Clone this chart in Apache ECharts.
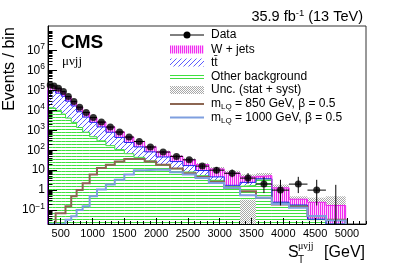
<!DOCTYPE html>
<html><head><meta charset="utf-8">
<script src="https://cdn.jsdelivr.net/npm/echarts@6/dist/echarts.min.js"></script>
<style>html,body{margin:0;padding:0;background:#fff}#c{width:407px;height:267px}</style>
</head><body><div id="c"></div>
<script>
// ---- data ----
const binEdges = [300, 370, 420, 510, 575, 665, 750, 845, 955, 1070, 1210, 1350, 1500, 1650, 1820, 2000, 2220, 2420, 2620, 2830, 3070, 3320, 3570, 3820, 4090, 4380, 4670, 4980];
const dataCounts = [188000, 168000, 129000, 87000, 49000, 27500, 14500, 7800, 4370, 2570, 1450, 813, 457, 275, 145, 81, 49, 33, 16, 10, 7, 4, 2, 1, 2, 1, 0];
const dataErrLow = [187566, 167590, 128641, 86705, 48779, 27334, 14380, 7712, 4304, 2519, 1412, 784.5, 435.6, 258.4, 133, 72, 42, 27.3, 12.1, 6.89, 4.42, 2.09, 0.71, 0.17, 0.71, 0.17, 0];
const dataErrHigh = [188434, 168410, 129359, 87295, 49221, 27666, 14620, 7888, 4436, 2621, 1488, 841.5, 478.4, 291.6, 157, 90, 56, 38.8, 20.1, 14.27, 10.77, 7.16, 4.64, 3.30, 4.64, 3.30, 1.84];
const otherBkg = [13500, 13000, 10000, 6500, 4100, 2500, 1380, 800, 475, 295, 170, 107, 67, 44, 29, 18, 11.7, 8.1, 5.3, 3.1, 1.55, 1.7, 3.6, 0.23, 0.17, 0.033, 0.005];
const ttbar = [86500, 82000, 63000, 44500, 24900, 14100, 7120, 3800, 2025, 1185, 630, 333, 178, 103, 54, 28, 15.3, 8.9, 4.3, 1.5, 0.19, 0.75, 0.1, 0.02, 0.01, 0.002, 0.001];
const wjets = [74000, 65000, 51000, 33000, 19000, 11400, 5800, 3300, 1800, 1120, 680, 390, 215, 123, 65, 37, 23, 16, 9.4, 6.9, 5.46, 2.15, 1.6, 1.05, 0.17, 0.21, 0.164];
const uncLow = [156600, 144000, 111600, 75600, 43200, 25200, 12870, 7110, 3870, 2340, 1302, 730, 405, 238, 126, 70.5, 42.5, 26.4, 15.2, 8.6, 5.0, 3.0, 3.4, 0.72, 0.21, 0.07, 0.02];
const uncHigh = [191400, 176000, 136400, 92400, 52800, 30800, 15730, 8690, 4730, 2860, 1658, 930, 515, 302, 170, 95.5, 57.5, 39.6, 22.8, 14.4, 9.4, 6.2, 7.2, 1.9, 0.49, 0.42, 0.49];
const uncArtifactBins = [21];
const uncArtifactTop = [0.33];
const sig850 = [0, 0, 0.07, 0.07, 0.155, 0.49, 1.0, 2.2, 6.0, 12.9, 18.8, 27.5, 36, 36, 27.5, 18.8, 12, 7, 4.6, 2.6, 1.3, 0.87, 0.41, 0.19, 0.145, 0.049, 0.033];
const sig1000 = [0, 0, 0, 0, 0.033, 0.049, 0.1, 0.155, 0.49, 1.06, 1.9, 3.35, 6.0, 9.8, 10.6, 10.6, 7.8, 6.0, 4.0, 2.3, 1.3, 0.55, 0.41, 0.2, 0.13, 0.05, 0.03];
const xTickLabels = [500, 1000, 1500, 2000, 2500, 3000, 3500, 4000, 4500, 5000];
const yTickExponents = [-1, 0, 1, 2, 3, 4, 5, 6, 7];
const xMin = 300, xMax = 5300, yMin = 0.02, yMax = 1.7e8;

// ---- helpers ----
const LY0 = Math.log10(yMin), LY1 = Math.log10(yMax);
function L(v) { if (!(v > 0)) return LY0; return Math.min(Math.max(Math.log10(v), LY0), LY1); }
function makePattern(w, h, bg, draw) {
  const c = document.createElement('canvas'); c.width = w; c.height = h;
  const g = c.getContext('2d');
  if (bg) { g.fillStyle = bg; g.fillRect(0, 0, w, h); }
  draw(g, w, h);
  return { image: c, repeat: 'repeat' };
}
const patGreen = makePattern(4, 3, '#ffffff', g => { g.fillStyle = '#3fe03f'; g.fillRect(0, 0, 4, 1); });
const patMag = makePattern(2, 2, '#fbd2fb', g => { g.fillStyle = '#f22cf2'; g.fillRect(0, 0, 1, 2); });
const patBlue = makePattern(5, 5, '#ffffff', (g, w, h) => {
  g.strokeStyle = '#5a5aff'; g.lineWidth = 1;
  [-w, 0, w].forEach(ox => { g.beginPath(); g.moveTo(ox, h); g.lineTo(ox + w, 0); g.stroke(); });
});
const patDotsOpaque = makePattern(2, 2, '#ffffff', g => { g.fillStyle = '#a8a8a8'; g.fillRect(0, 0, 1, 1); g.fillRect(1, 1, 1, 1); });

const nB = dataCounts.length;
const cumG = [], cumB = [], cumT = [];
for (let i = 0; i < nB; i++) { cumG.push(otherBkg[i]); cumB.push(otherBkg[i] + ttbar[i]); cumT.push(otherBkg[i] + ttbar[i] + wjets[i]); }

function rectSeries(name, rows, fill, z) {
  return {
    type: 'custom', name, z, silent: true, animation: false, clip: true,
    data: rows,
    encode: { x: [0, 1], y: [2, 3] },
    renderItem: (p, api) => {
      const a = api.coord([api.value(0), api.value(2)]);
      const b = api.coord([api.value(1), api.value(3)]);
      return { type: 'rect', shape: { x: a[0], y: b[1], width: b[0] - a[0], height: a[1] - b[1] }, style: { fill } };
    }
  };
}
function stepPoints(vals) {
  const pts = [[binEdges[0], LY0]];
  for (let i = 0; i < vals.length; i++) { pts.push([binEdges[i], L(vals[i])]); pts.push([binEdges[i + 1], L(vals[i])]); }
  pts.push([binEdges[vals.length], LY0]);
  return pts;
}
function stepSeries(vals, color, width, z) {
  return { type: 'line', data: stepPoints(vals), showSymbol: false, symbol: 'none', clip: true, silent: true, animation: false, z,
    lineStyle: { color, width, cap: 'butt', join: 'miter' } };
}

const rowsOther = [], rowsTT = [], rowsW = [], rowsUnc = [], rowsArt = [];
for (let i = 0; i < nB; i++) {
  rowsOther.push([binEdges[i], binEdges[i + 1], LY0, L(cumG[i])]);
  rowsTT.push([binEdges[i], binEdges[i + 1], L(cumG[i]), L(cumB[i])]);
  rowsW.push([binEdges[i], binEdges[i + 1], L(cumB[i]), L(cumT[i])]);
  rowsUnc.push([binEdges[i], binEdges[i + 1], L(uncLow[i]), L(uncHigh[i])]);
}
uncArtifactBins.forEach((b, k) => rowsArt.push([binEdges[b], binEdges[b + 1], LY0, L(uncArtifactTop[k])]));

const errRows = [], markRows = [];
for (let i = 0; i < nB; i++) {
  errRows.push([binEdges[i], binEdges[i + 1], L(dataCounts[i]), L(dataErrLow[i]), L(dataErrHigh[i]), dataCounts[i] > 0 ? 1 : 0]);
  if (dataCounts[i] > 0) markRows.push([(binEdges[i] + binEdges[i + 1]) / 2, L(dataCounts[i])]);
}

const xMinor = []; for (let v = xMin; v <= xMax; v += 100) if (xTickLabels.indexOf(v) < 0) xMinor.push(v);
const yMinor = []; for (let e = -2; e <= 8; e++) for (let k = 2; k <= 9; k++) { const lv = Math.log10(k) + e; if (lv > LY0 && lv < LY1) yMinor.push(lv); }

const FONT = 'Liberation Sans, Arial, Helvetica, sans-serif';
const chart = echarts.init(document.getElementById('c'), null, { renderer: 'canvas', width: 407, height: 267 });

const legendX0 = 170, legendX1 = 204, legendTX = 211;
const legendRows = [35, 49.5, 62.5, 77, 90, 104, 117.5];
const graphics = [];
graphics.push({ type: 'line', shape: { x1: legendX0, y1: legendRows[0], x2: legendX1, y2: legendRows[0] }, style: { stroke: '#000', lineWidth: 1 } });
graphics.push({ type: 'circle', shape: { cx: (legendX0 + legendX1) / 2, cy: legendRows[0], r: 3.5 }, style: { fill: '#000' } });
[[patMag, 1], [patBlue, 2], [patGreen, 3], [patDotsOpaque, 4]].forEach(([pat, r]) => {
  graphics.push({ type: 'rect', shape: { x: legendX0, y: legendRows[r] - 4, width: legendX1 - legendX0, height: 8 }, style: { fill: pat } });
});
graphics.push({ type: 'line', shape: { x1: legendX0, y1: legendRows[5], x2: legendX1, y2: legendRows[5] }, style: { stroke: '#8c6652', lineWidth: 2 } });
graphics.push({ type: 'line', shape: { x1: legendX0, y1: legendRows[6], x2: legendX1, y2: legendRows[6] }, style: { stroke: '#7f9fdf', lineWidth: 2 } });
const legendTexts = ['Data', 'W + jets', 'tt\u0304', 'Other background', 'Unc. (stat + syst)',
  '{n|m}{sub|LQ}{n| = 850 GeV, β = 0.5}', '{n|m}{sub|LQ}{n| = 1000 GeV, β = 0.5}'];
legendTexts.forEach((t, i) => {
  graphics.push({ type: 'text', x: legendTX, y: legendRows[i], style: { text: t, fontSize: 12, fontFamily: FONT, fill: '#000', verticalAlign: 'middle', align: 'left',
    rich: { n: { fontSize: 12, fontFamily: FONT }, sub: { fontSize: 8, fontFamily: FONT, padding: [6, 0, 0, 0] } } } });
});
graphics.push({ type: 'text', x: 363, y: 17, style: { text: '{a|35.9 fb}{s|-1}{a| (13 TeV)}', align: 'right', verticalAlign: 'middle',
  rich: { a: { fontSize: 14.5, fontFamily: FONT, fill: '#000' }, s: { fontSize: 9.5, fontFamily: FONT, fill: '#000', padding: [0, 0, 7, 0] } } } });
graphics.push({ type: 'text', x: 61, y: 43, style: { text: 'CMS', fontSize: 19, fontWeight: 'bold', fontFamily: FONT, fill: '#000', verticalAlign: 'middle' } });
graphics.push({ type: 'text', x: 62, y: 62, style: { text: 'μνjj', fontSize: 13, fontFamily: 'Liberation Serif, serif', fill: '#000', verticalAlign: 'middle' } });
graphics.push({ type: 'text', x: 9.5, y: 69, rotation: Math.PI / 2, style: { text: 'Events / bin', fontSize: 16, fontFamily: FONT, fill: '#000', align: 'center', verticalAlign: 'middle' } });
graphics.push({ type: 'text', x: 288, y: 253, style: { text: 'S', fontSize: 16, fontFamily: FONT, fill: '#000', verticalAlign: 'middle' } });
graphics.push({ type: 'text', x: 298, y: 260, style: { text: 'T', fontSize: 10, fontFamily: FONT, fill: '#000', verticalAlign: 'middle' } });
graphics.push({ type: 'text', x: 298, y: 246, style: { text: 'μνjj', fontSize: 10, fontFamily: 'Liberation Serif, serif', fill: '#000', verticalAlign: 'middle' } });
graphics.push({ type: 'text', x: 365, y: 253, style: { text: '[GeV]', fontSize: 16, fontFamily: FONT, fill: '#000', align: 'right', verticalAlign: 'middle' } });

const option = {
  animation: false,
  backgroundColor: '#fff',
  grid: { left: 48, top: 26, width: 318, height: 198, show: true, borderColor: '#333', borderWidth: 1, backgroundColor: 'transparent' },
  xAxis: [
    { type: 'value', min: xMin, max: xMax, position: 'bottom', z: 10, splitLine: { show: false },
      axisLine: { show: true, onZero: false, lineStyle: { color: '#000', width: 1 } },
      axisTick: { show: true, inside: true, length: 6, customValues: xTickLabels, lineStyle: { color: '#000' } },
      axisLabel: { show: true, customValues: xTickLabels, fontSize: 11, fontFamily: FONT, color: '#000', margin: 4, formatter: v => String(Math.round(v)) } },
    { type: 'value', min: xMin, max: xMax, position: 'bottom', z: 10, splitLine: { show: false },
      axisLine: { show: false, onZero: false },
      axisTick: { show: true, inside: true, length: 3, customValues: xMinor, lineStyle: { color: '#000' } },
      axisLabel: { show: false } }
  ],
  yAxis: [
    { type: 'value', min: LY0, max: LY1, z: 10, splitLine: { show: false },
      axisLine: { show: true, onZero: false, lineStyle: { color: '#000', width: 1 } },
      axisTick: { show: true, inside: true, length: 9, customValues: yTickExponents, lineStyle: { color: '#000' } },
      axisLabel: { show: true, customValues: yTickExponents, margin: 3,
        formatter: v => { const e = Math.round(v); if (e === 0) return '{n|1}'; if (e === 1) return '{n|10}'; return '{n|10}{s|' + (e < 0 ? '\u2212' + (-e) : e) + '}'; },
        rich: { n: { fontSize: 12, fontFamily: FONT, color: '#000' }, s: { fontSize: 8.5, fontFamily: FONT, color: '#000', padding: [0, 0, 7, 0] } } } },
    { type: 'value', min: LY0, max: LY1, z: 10, splitLine: { show: false }, position: 'left',
      axisLine: { show: false, onZero: false },
      axisTick: { show: true, inside: true, length: 4.5, customValues: yMinor, lineStyle: { color: '#000' } },
      axisLabel: { show: false } }
  ],
  series: [
    rectSeries('Unc. (stat + syst)', rowsUnc, patDotsOpaque, 0),
    rectSeries('Other background', rowsOther, patGreen, 1),
    rectSeries('ttbar', rowsTT, patBlue, 1),
    rectSeries('W + jets', rowsW, patMag, 1),
    rectSeries('Unc artifact', rowsArt, patDotsOpaque, 2),
    stepSeries(cumG, '#3fdc3f', 1, 3),
    stepSeries(cumB, '#2222ee', 1, 3),
    stepSeries(cumT, '#ee22ee', 1, 3),
    stepSeries(sig850, '#8c6652', 2, 5),
    stepSeries(sig1000, '#7f9fdf', 2, 5),
    { type: 'custom', name: 'Data errors', z: 6, silent: true, animation: false, clip: true, data: errRows, encode: { x: [0, 1], y: [2, 3, 4] },
      renderItem: (p, api) => {
        const x0 = api.value(0), x1 = api.value(1), xc = (x0 + x1) / 2;
        const pl = api.coord([xc, api.value(3)]), ph = api.coord([xc, api.value(4)]);
        const ch = [{ type: 'line', shape: { x1: pl[0], y1: pl[1], x2: ph[0], y2: ph[1] }, style: { stroke: '#000', lineWidth: 1 } }];
        if (api.value(5) > 0) {
          const a = api.coord([x0, api.value(2)]), b = api.coord([x1, api.value(2)]);
          ch.push({ type: 'line', shape: { x1: a[0], y1: a[1], x2: b[0], y2: b[1] }, style: { stroke: '#000', lineWidth: 1 } });
        }
        return { type: 'group', children: ch };
      } },
    { type: 'scatter', name: 'Data', z: 7, data: markRows, symbol: 'circle', symbolSize: 7, itemStyle: { color: '#000' }, silent: true, animation: false }
  ],
  graphic: graphics
};
chart.setOption(option);
</script></body></html>
